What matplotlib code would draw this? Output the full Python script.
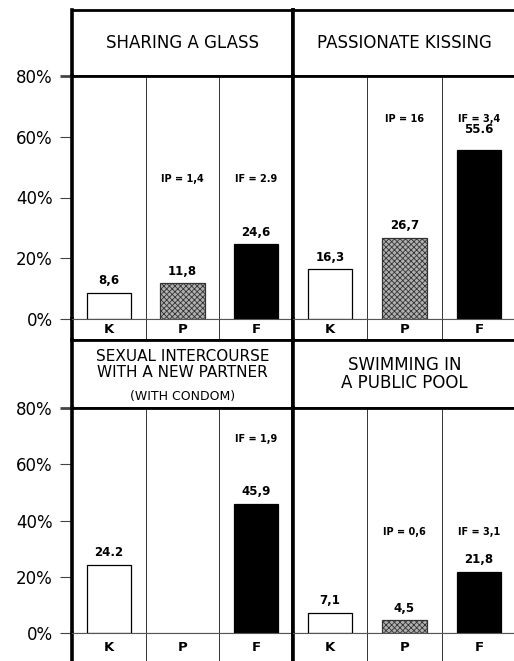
import matplotlib.pyplot as plt

plt.rcParams["font.family"] = ["DejaVu Sans"]
plt.rcParams["hatch.linewidth"] = 0.6

W, H = 514, 661

groups = ["K", "P", "F"]
titles = [
    "SHARING A GLASS",
    "PASSIONATE KISSING",
    "SEXUAL INTERCOURSE\nWITH A NEW PARTNER",
    "SWIMMING IN\nA PUBLIC POOL",
]
subtitles = ["", "", "(WITH CONDOM)", ""]
values = [
    [8.6, 11.8, 24.6],
    [16.3, 26.7, 55.6],
    [24.2, None, 45.9],
    [7.1, 4.5, 21.8],
]
value_text = [
    ["8,6", "11,8", "24,6"],
    ["16,3", "26,7", "55.6"],
    ["24.2", "", "45,9"],
    ["7,1", "4,5", "21,8"],
]
index_text = [
    ["", "IP = 1,4", "IF = 2.9"],
    ["", "IP = 16", "IF = 3,4"],
    ["", "", "IF = 1,9"],
    ["", "IP = 0,6", "IF = 3,1"],
]
yticks = [0, 20, 40, 60, 80]
ytick_labels = ["0%", "20%", "40%", "60%", "80%"]

# layout in pixels
rows = [(10, 76, 319, 340), (340, 408, 633, 672)]
cols = [(72, 293), (293, 516)]
index_y = [46, 66, 69, 36]
label_override = {(1, 2): 62.5}

fills = ["white", "#b0b0b0", "black"]
hatches = [None, "xxxxxx", None]
THICK, THIN = 2.0, 0.8


def box(x0, y0, x1, y1):
    return [x0 / W, 1 - y1 / H, (x1 - x0) / W, (y1 - y0) / H]


fig = plt.figure(figsize=(W / 100, H / 100), dpi=100)

for r, (ty, py, by, ly) in enumerate(rows):
    for c, (x0, x1) in enumerate(cols):
        i = r * 2 + c

        # title box
        tax = fig.add_axes(box(x0, ty, x1, py))
        tax.set_xticks([])
        tax.set_yticks([])
        for s in tax.spines.values():
            s.set_linewidth(THICK)
        tax.spines["left"].set_linewidth(2.6)
        tax.spines["right"].set_linewidth(2.6)
        if subtitles[i]:
            tax.text(0.5, 0.64, titles[i], ha="center", va="center",
                     fontsize=11, linespacing=1.15, transform=tax.transAxes)
            tax.text(0.5, 0.17, subtitles[i], ha="center", va="center",
                     fontsize=9, transform=tax.transAxes)
        else:
            tax.text(0.5, 0.5, titles[i], ha="center", va="center",
                     fontsize=12, linespacing=1.05, transform=tax.transAxes)

        # plot area
        ax = fig.add_axes(box(x0, py, x1, by))
        ax.set_xlim(0, 3)
        ax.set_ylim(0, 80)
        ax.spines["top"].set_linewidth(THICK)
        ax.spines["bottom"].set_linewidth(THIN)
        ax.spines["bottom"].set_color("#555555")
        ax.spines["left"].set_linewidth(2.6)
        ax.spines["right"].set_linewidth(2.6)
        for xv in (1, 2):
            ax.axvline(xv, color="#333333", lw=0.7)
        ax.set_xticks([])
        if c == 0:
            ax.set_yticks(yticks)
            ax.set_yticklabels(ytick_labels, fontsize=12)
            ax.tick_params(axis="y", length=9, width=0.8, pad=5,
                           color="#444444")
            ax.yaxis.get_major_ticks()[-1].tick1line.set_markeredgewidth(THICK)
            ax.yaxis.get_major_ticks()[-1].tick1line.set_color("black")
        else:
            ax.set_yticks([])

        for j, v in enumerate(values[i]):
            xc = j + 0.5
            if v is not None:
                ax.bar(xc, v, width=0.6, color=fills[j], hatch=hatches[j],
                       edgecolor="black" if hatches[j] is None else "#333333",
                       linewidth=0.9, zorder=3)
                ly_val = label_override.get((i, j))
                if ly_val is None:
                    ax.annotate(value_text[i][j], (xc, v), xytext=(0, 4),
                                textcoords="offset points", ha="center",
                                va="bottom", fontsize=8.5, fontweight="bold")
                else:
                    ax.text(xc, ly_val, value_text[i][j], ha="center",
                            va="center", fontsize=8.5, fontweight="bold")
            if index_text[i][j]:
                ax.text(xc, index_y[i], index_text[i][j], ha="center",
                        va="center", fontsize=7, fontweight="bold")

        # group label row
        lax = fig.add_axes(box(x0, by, x1, ly))
        lax.set_xlim(0, 3)
        lax.set_ylim(0, 1)
        lax.set_xticks([])
        lax.set_yticks([])
        lax.spines["top"].set_linewidth(THIN)
        lax.spines["top"].set_color("#555555")
        lax.spines["bottom"].set_linewidth(THICK)
        lax.spines["left"].set_linewidth(2.6)
        lax.spines["right"].set_linewidth(2.6)
        for xv in (1, 2):
            lax.axvline(xv, color="#333333", lw=0.7)
        ytxt = 0.5 if r == 0 else 0.62
        for j, g in enumerate(groups):
            lax.text(j + 0.5, ytxt, g, ha="center", va="center",
                     fontsize=9.5, fontweight="bold")

fig.savefig("out.png", dpi=100)
